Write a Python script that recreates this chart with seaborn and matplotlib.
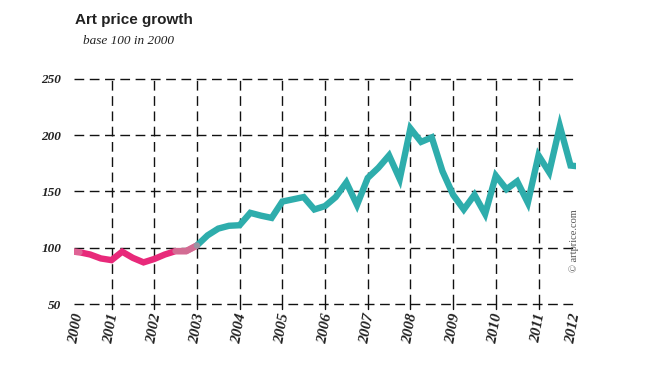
import numpy as np
import pandas as pd
import seaborn as sns
import matplotlib.pyplot as plt

# quarterly index values, base 100 in 2000
quarters = [2000 + q / 4 for q in range(49)]
values = [
    97, 96, 94, 90.5,
    89, 96.5, 91, 87,
    90, 94, 97, 97,
    102, 111, 117, 119.5,
    120, 131, 128.5, 126.5,
    141, 143, 145, 134,
    137, 145, 158, 138,
    162, 171, 182, 161,
    206, 194, 198, 168,
    147, 134, 147, 130,
    164, 152, 159, 140,
    182, 167, 208, 173,
    172,
]
split_year = 2003.0
grid_years = list(range(2001, 2012))
y_ticks = [50, 100, 150, 200, 250]

PINK = "#e8297a"
TEAL = "#2eadac"

df = pd.DataFrame({"year": quarters, "index": values})
early = df[df["year"] <= split_year]
late = df[df["year"] >= split_year]

sns.set_style("white")
serif = ["Liberation Serif", "DejaVu Serif"]

fig = plt.figure(figsize=(6.66, 3.65), dpi=100)
ax = fig.add_axes([0.111, 0.167, 0.754, 0.617])

sns.lineplot(data=early, x="year", y="index", color=PINK, lw=4.6, ax=ax,
             solid_joinstyle="miter", zorder=3)
sns.lineplot(data=late, x="year", y="index", color=TEAL, lw=4.6, ax=ax,
             solid_joinstyle="miter", zorder=3)
# faded ends of the pink segment
ax.plot(early["year"][:2], early["index"][:2], color="#d98aa8", lw=4.6, zorder=4, alpha=0.6)
ax.plot(early["year"][-3:], early["index"][-3:], color="#c98a9f", lw=4.6, zorder=4, alpha=0.7)

ax.set_xlim(2000.12, 2011.88)
ax.set_ylim(50, 250)

for yv in y_ticks:
    ax.axhline(yv, color="#111111", lw=1.0, ls=(0, (7, 4)), zorder=1, clip_on=False)
for xv in grid_years:
    ax.plot([xv, xv], [50, 250], color="#111111", lw=1.0, ls=(0, (7, 4)), zorder=1,
            clip_on=False)
    ax.plot([xv, xv], [50, 46], color="#111111", lw=1.0, clip_on=False)

for s in ax.spines.values():
    s.set_visible(False)

ax.set_yticks(y_ticks)
ax.set_yticklabels([str(v) for v in y_ticks], family=serif, style="italic",
                   weight="bold", fontsize=9.5, color="#222222")
ax.tick_params(axis="y", length=0, pad=9)

xt = [2000.18] + grid_years + [2011.82]
ax.set_xticks(xt)
ax.set_xticklabels([str(y) for y in range(2000, 2013)], family=serif, style="italic",
                   weight="bold", fontsize=11, rotation=80, color="#222222")
ax.tick_params(axis="x", length=0, pad=6)
ax.set_xlabel("")
ax.set_ylabel("")

fig.text(0.113, 0.945, "Art price growth", fontsize=11, weight="bold",
         family=["Liberation Sans Narrow", "Liberation Sans"], color="#222222",
         va="center")
fig.text(0.125, 0.887, "base 100 in 2000", fontsize=9.5, style="italic",
         family=serif, color="#222222", va="center")
fig.text(0.862, 0.34, "\u00a9 artprice.com", fontsize=7.5, rotation=90,
         color="#555555", family=serif, va="center", ha="center")

fig.savefig("out.png", dpi=100)
